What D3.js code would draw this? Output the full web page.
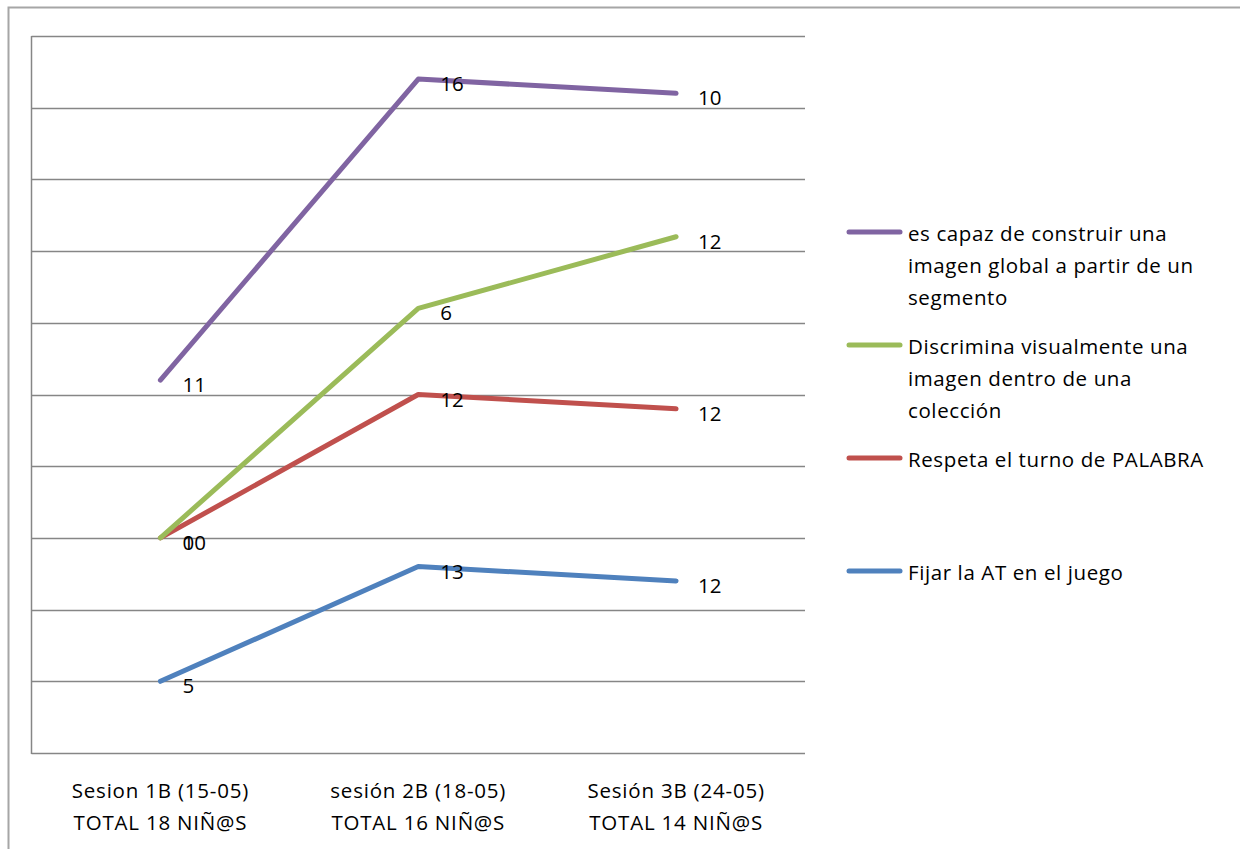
<!DOCTYPE html>
<html>
<head>
<meta charset="utf-8">
<script src="https://cdn.jsdelivr.net/npm/d3@7/dist/d3.min.js"></script>
<style>
  html, body { margin: 0; padding: 0; background: #fff; }
  svg text { font-family: "Open Sans", "Liberation Sans", sans-serif; fill: #000; }
</style>
</head>
<body>
<svg id="chart" width="1240" height="849"></svg>
<script>
// Sessions (two-line category labels)
const categories = [
  ["Sesion 1B (15-05)", "TOTAL 18 NIÑ@S"],
  ["sesión 2B (18-05)", "TOTAL 16 NIÑ@S"],
  ["Sesión 3B (24-05)", "TOTAL 14 NIÑ@S"]
];

// Series, bottom of the stack first
const seriesNames = [
  "Fijar la AT en el juego",
  "Respeta el turno de PALABRA",
  "Discrimina visualmente una imagen dentro de una colección",
  "es capaz de construir una imagen global a partir de un segmento"
];
const fijarAT = [5, 13, 12];
const respetaTurno = [10, 12, 12];
const discrimina = [0, 6, 12];
const construye = [11, 16, 10];
const seriesValues = [fijarAT, respetaTurno, discrimina, construye];
const seriesColors = ["#4F81BD", "#C0504D", "#9BBB59", "#8064A2"];

// Legend order (top to bottom) and wrapped lines
const legendOrder = [3, 2, 1, 0];
const legendLines = [
  ["Fijar la AT en el juego"],
  ["Respeta el turno de PALABRA"],
  ["Discrimina visualmente una", "imagen dentro de una", "colección"],
  ["es capaz de construir una", "imagen global a partir de un", "segmento"]
];

const yTicks = d3.range(0, 51, 5);

const svg = d3.select("#chart");

// Outer chart frame
svg.append("rect")
  .attr("x", 8.5).attr("y", 7.5).attr("width", 1240).attr("height", 860)
  .attr("fill", "none").attr("stroke", "#a6a6a6").attr("stroke-width", 2);

const plot = { left: 31.5, right: 805, top: 36, bottom: 753 };

const x = d3.scaleBand().domain(d3.range(categories.length))
  .range([plot.left, plot.right]);
const y = d3.scaleLinear().domain([0, 50]).range([plot.bottom, plot.top]);

// Horizontal gridlines
svg.append("g").selectAll("line").data(yTicks).join("line")
  .attr("x1", plot.left).attr("x2", plot.right)
  .attr("y1", d => Math.round(y(d)) + 0.5).attr("y2", d => Math.round(y(d)) + 0.5)
  .attr("stroke", "#868686").attr("stroke-width", 1.5);

// Value axis line
svg.append("line")
  .attr("x1", plot.left).attr("x2", plot.left)
  .attr("y1", plot.top).attr("y2", plot.bottom + 1)
  .attr("stroke", "#868686").attr("stroke-width", 1.5);

// Category labels
const catG = svg.append("g");
categories.forEach((lines, i) => {
  const cx = x(i) + x.bandwidth() / 2;
  lines.forEach((t, j) => {
    catG.append("text")
      .attr("x", cx).attr("y", 798 + j * 32)
      .attr("text-anchor", "middle")
      .attr("font-size", 20.5)
      .attr("letter-spacing", 0.8)
      .text(t);
  });
});

// Stacked totals
const stack = d3.stack().keys(d3.range(seriesValues.length))
  .value((d, k) => seriesValues[k][d]);
const stacked = stack(d3.range(categories.length));

const line = d3.line()
  .x(d => x(d.data) + x.bandwidth() / 2)
  .y(d => y(d[1]));

svg.append("g").selectAll("path").data(stacked).join("path")
  .attr("d", line)
  .attr("fill", "none")
  .attr("stroke", (d, i) => seriesColors[i])
  .attr("stroke-width", 5)
  .attr("stroke-linejoin", "round")
  .attr("stroke-linecap", "round");

// Data labels
const lblG = svg.append("g");
stacked.forEach((s, k) => {
  s.forEach(d => {
    lblG.append("text")
      .attr("x", x(d.data) + x.bandwidth() / 2 + 22)
      .attr("y", y(d[1]) + 12)
      .attr("font-size", 20.5)
      .text(seriesValues[k][d.data]);
  });
});

// Legend
const legendY = [232, 345, 458, 571];
const legG = svg.append("g");
legendOrder.forEach((k, i) => {
  const ly = legendY[i];
  legG.append("line")
    .attr("x1", 849).attr("x2", 900).attr("y1", ly).attr("y2", ly)
    .attr("stroke", seriesColors[k]).attr("stroke-width", 5)
    .attr("stroke-linecap", "round");
  legendLines[k].forEach((t, j) => {
    legG.append("text")
      .attr("x", 908).attr("y", ly + 9 + j * 32)
      .attr("font-size", 20.5)
      .attr("letter-spacing", 0.6)
      .text(t);
  });
});
</script>
</body>
</html>
